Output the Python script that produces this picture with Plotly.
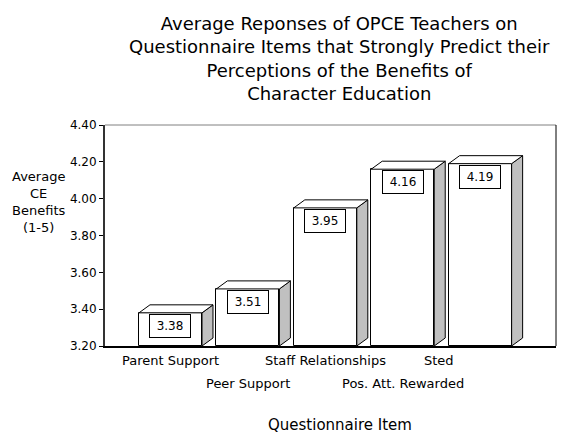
import plotly.graph_objects as go

categories = ["Parent Support", "Peer Support", "Staff Relationships", "Pos. Att. Rewarded", "Sted"]
values = [3.38, 3.51, 3.95, 4.16, 4.19]
value_labels = ["3.38", "3.51", "3.95", "4.16", "4.19"]
tick_vals = [3.20, 3.40, 3.60, 3.80, 4.00, 4.20, 4.40]
title_text = ("Average Reponses of OPCE Teachers on<br>Questionnaire Items that Strongly Predict their<br>"
              "Perceptions of the Benefits of<br>Character Education")

FONT = "DejaVu Sans"
bar_w = 0.814
dx = 0.142   # depth in x units
dy = 0.0435  # depth in y units
y0 = 3.20
xpos = list(range(len(categories)))

fig = go.Figure()
fig.add_trace(go.Bar(
    x=xpos, y=[v - y0 for v in values], base=y0, width=bar_w,
    marker=dict(color="white", line=dict(color="black", width=1)),
    hoverinfo="skip", showlegend=False))

shapes = []
for i, v in zip(xpos, values):
    xl = i - bar_w / 2
    xr = i + bar_w / 2
    shapes.append(dict(type="path", xref="x", yref="y",
                       path=f"M{xr},{y0} L{xr+dx},{y0+dy} L{xr+dx},{v+dy} L{xr},{v} Z",
                       fillcolor="#c0c0c0", line=dict(color="black", width=1), layer="above"))
    shapes.append(dict(type="path", xref="x", yref="y",
                       path=f"M{xl},{v} L{xl+dx},{v+dy} L{xr+dx},{v+dy} L{xr},{v} Z",
                       fillcolor="white", line=dict(color="black", width=1), layer="above"))

shapes.append(dict(type="line", xref="paper", yref="paper", x0=0, x1=1, y0=1, y1=1,
                   line=dict(color="#808080", width=1)))
shapes.append(dict(type="line", xref="paper", yref="paper", x0=1, x1=1, y0=0, y1=1,
                   line=dict(color="black", width=1)))

annotations = []
for i, lab in zip(xpos, value_labels):
    annotations.append(dict(x=i, y=values[i], xref="x", yref="y", text=lab, showarrow=False,
                            yanchor="top", yshift=-1, font=dict(family=FONT, size=12, color="black"),
                            bgcolor="white", bordercolor="black", borderwidth=1, borderpad=4, width=32))

for i, cat in zip(xpos, categories):
    row_shift = -14 if i % 2 == 0 else -37
    xshift = -41 if i == 4 else 0
    annotations.append(dict(x=i, y=0, xref="x", yref="paper", text=cat, showarrow=False,
                            yanchor="middle", yshift=row_shift, xshift=xshift,
                            font=dict(family=FONT, size=13, color="black")))

annotations.append(dict(x=0.521, y=0, xref="paper", yref="paper", text="Questionnaire Item",
                        showarrow=False, yanchor="middle", yshift=-79,
                        font=dict(family=FONT, size=15, color="black")))
annotations.append(dict(x=-0.146, y=0.652, xref="paper", yref="paper",
                        text="Average<br>CE<br>Benefits<br>(1-5)", showarrow=False,
                        align="center", xanchor="center", yanchor="middle",
                        font=dict(family=FONT, size=13, color="black")))
annotations.append(dict(x=0.521, y=1, xref="paper", yref="paper", text=title_text,
                        showarrow=False, align="center", xanchor="center", yanchor="middle",
                        yshift=67, font=dict(family=FONT, size=18, color="black")))

fig.update_layout(
    width=561, height=433,
    margin=dict(l=105, r=5, t=125, b=87),
    paper_bgcolor="white", plot_bgcolor="white",
    xaxis=dict(range=[-0.846, 4.98], showticklabels=False, showgrid=False, zeroline=False,
               showline=True, linecolor="black", linewidth=1.5, ticks=""),
    yaxis=dict(range=[3.2, 4.4], tickvals=tick_vals, tickformat=".2f", showgrid=False, zeroline=False,
               showline=True, linecolor="#333333", linewidth=2, ticks="outside", ticklen=4,
               tickcolor="black", tickfont=dict(family=FONT, size=12, color="black")),
    shapes=shapes, annotations=annotations, bargap=0, showlegend=False,
)

fig.write_html("out.html")
